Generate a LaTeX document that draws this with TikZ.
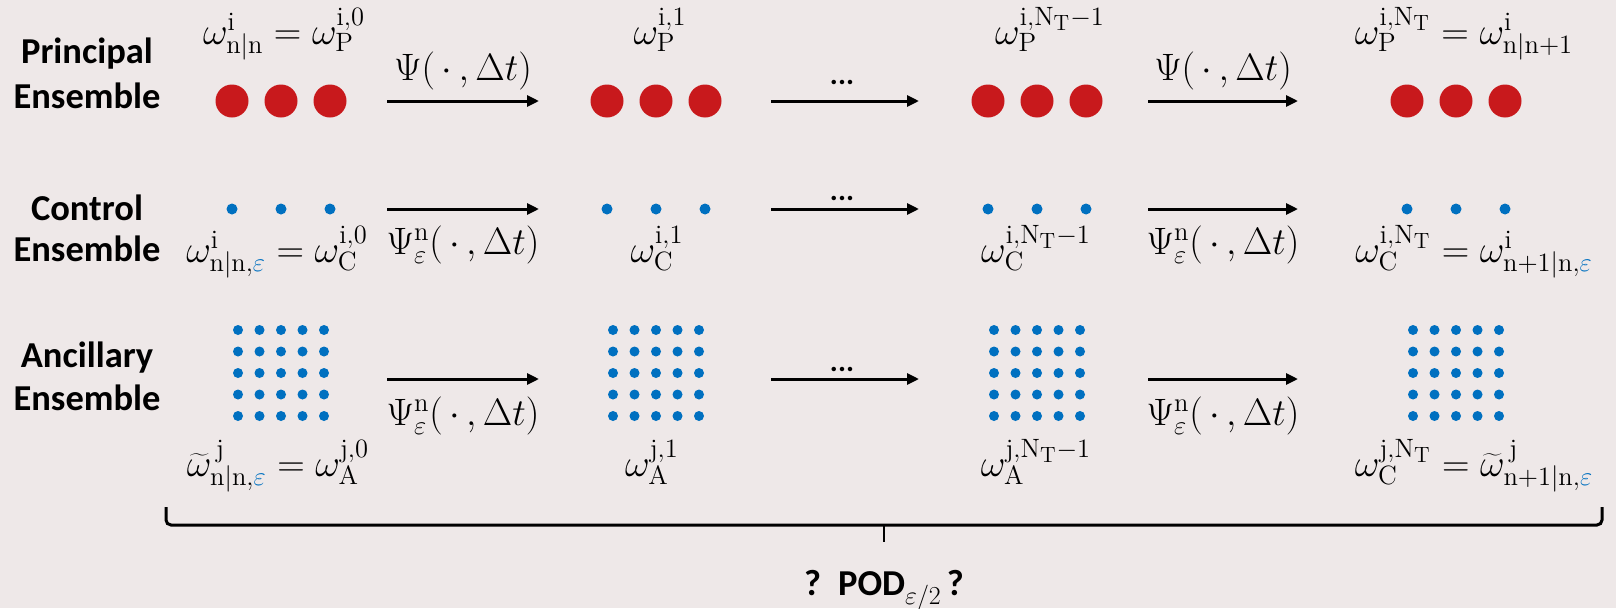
\documentclass[tikz,border=0pt]{standalone}
\usepackage{fontspec}
\setsansfont{Carlito}
\usetikzlibrary{arrows.meta}
\definecolor{bgc}{RGB}{238,232,232}
\definecolor{pred}{RGB}{200,25,28}
\definecolor{pblue}{RGB}{0,112,192}
\newcommand{\rmv}[1]{\mathrm{#1}}
\newcommand{\bep}{\textcolor{pblue}{\varepsilon}}
\newcommand{\ml}[1]{\scalebox{1.84}{\fontsize{20.74}{25}\selectfont$#1$}}
\begin{document}
\begin{tikzpicture}[x=1pt,y=-1pt,
  ens/.style={font=\sffamily\bfseries\fontsize{36.5}{43}\selectfont, anchor=base, inner sep=0pt},
  mlab/.style={anchor=base, inner sep=0pt},
  flow/.style={line width=3pt, -{Triangle[length=12pt,width=11pt]}},
  bigdot/.style={circle, fill=pred, minimum size=33pt, inner sep=0pt},
  smalldot/.style={circle, fill=pblue, minimum size=11pt, inner sep=0pt},
  griddot/.style={circle, fill=pblue, minimum size=10pt, inner sep=0pt},
  ellip/.style={font=\sffamily\bfseries\fontsize{30}{30}\selectfont, anchor=base, inner sep=0pt}
]
\fill[bgc] (0,0) rectangle (1616,608);
\useasboundingbox (0,0) rectangle (1616,608);

% row titles
\node[ens] (t1a) at (87,63) {Principal};
\node[ens] (t1b) at (87,108) {Ensemble};
\node[ens] (t2a) at (87,220) {Control};
\node[ens] (t2b) at (87,261) {Ensemble};
\node[ens] (t3a) at (87,367) {Ancillary};
\node[ens] (t3b) at (87,410) {Ensemble};

% dot groups
\foreach \g/\cx in {1/281,2/656,3/1037,4/1456}{
  \foreach \k/\dx in {1/-49,2/0,3/49}{
    \node[bigdot] (p\g-\k) at (\cx+\dx,101) {};
    \node[smalldot] (c\g-\k) at (\cx+\dx,209) {};
  }
  \foreach \i/\dx in {1/-43,2/-21.5,3/0,4/21.5,5/43}{
    \foreach \j/\dy in {1/-43,2/-21.5,3/0,4/21.5,5/43}{
      \node[griddot] (a\g-\i-\j) at (\cx+\dx,373+\dy) {};
    }
  }
}

% arrows
\foreach \r/\ry in {1/101,2/209,3/379}{
  \coordinate (s\r-1) at (387,\ry); \coordinate (e\r-1) at (539,\ry);
  \coordinate (s\r-2) at (771,\ry); \coordinate (e\r-2) at (919,\ry);
  \coordinate (s\r-3) at (1148,\ry); \coordinate (e\r-3) at (1298,\ry);
  \draw[flow] (s\r-1) -- (e\r-1);
  \draw[flow] (s\r-2) -- (e\r-2);
  \draw[flow] (s\r-3) -- (e\r-3);
}

% arrow labels
\node[mlab] (f1-1) at (463,80) {\ml{\Psi(\,\cdot\,,\Delta t)}};
\node[mlab] (f1-3) at (1223,80) {\ml{\Psi(\,\cdot\,,\Delta t)}};
\node[mlab] (f2-1) at (463,254) {\ml{\Psi^{\rmv{n}}_{\varepsilon}(\,\cdot\,,\Delta t)}};
\node[mlab] (f2-3) at (1223,254) {\ml{\Psi^{\rmv{n}}_{\varepsilon}(\,\cdot\,,\Delta t)}};
\node[mlab] (f3-1) at (463,425) {\ml{\Psi^{\rmv{n}}_{\varepsilon}(\,\cdot\,,\Delta t)}};
\node[mlab] (f3-3) at (1223,425) {\ml{\Psi^{\rmv{n}}_{\varepsilon}(\,\cdot\,,\Delta t)}};
\node[ellip] (d1) at (842,84) {...};
\node[ellip] (d2) at (842,200) {...};
\node[ellip] (d3) at (842,371) {...};

% state labels row 1
\node[mlab] (l1-1) at (284,44) {\ml{\omega^{\rmv{i}}_{\rmv{n|n}} = \omega^{\rmv{i,0}}_{\rmv{P}}}};
\node[mlab] (l1-2) at (660,44) {\ml{\omega^{\rmv{i,1}}_{\rmv{P}}}};
\node[mlab] (l1-3) at (1050,44) {\ml{\omega^{\rmv{i},\rmv{N}_{\rmv{T}}-1}_{\rmv{P}}}};
\node[mlab] (l1-4) at (1464,44) {\ml{\omega^{\rmv{i},\rmv{N}_{\rmv{T}}}_{\rmv{P}} = \omega^{\rmv{i}}_{\rmv{n|n+1}}}};
% row 2
\node[mlab] (l2-1) at (277,262) {\ml{\omega^{\rmv{i}}_{\rmv{n|n},\bep} = \omega^{\rmv{i,0}}_{\rmv{C}}}};
\node[mlab] (l2-2) at (657,262) {\ml{\omega^{\rmv{i,1}}_{\rmv{C}}}};
\node[mlab] (l2-3) at (1036,262) {\ml{\omega^{\rmv{i},\rmv{N}_{\rmv{T}}-1}_{\rmv{C}}}};
\node[mlab] (l2-4) at (1474,262) {\ml{\omega^{\rmv{i},\rmv{N}_{\rmv{T}}}_{\rmv{C}} = \omega^{\rmv{i}}_{\rmv{n+1|n},\bep}}};
% row 3
\node[mlab] (l3-1) at (278,476) {\ml{\widetilde{\omega}^{\,\rmv{j}}_{\rmv{n|n},\bep} = \omega^{\rmv{j,0}}_{\rmv{A}}}};
\node[mlab] (l3-2) at (652,476) {\ml{\omega^{\rmv{j,1}}_{\rmv{A}}}};
\node[mlab] (l3-3) at (1036,476) {\ml{\omega^{\rmv{j},\rmv{N}_{\rmv{T}}-1}_{\rmv{A}}}};
\node[mlab] (l3-4) at (1474,476) {\ml{\omega^{\rmv{j},\rmv{N}_{\rmv{T}}}_{\rmv{C}} = \widetilde{\omega}^{\,\rmv{j}}_{\rmv{n+1|n},\bep}}};

% brace
\coordinate (bl) at (166,507);
\coordinate (bm) at (884,525);
\coordinate (br) at (1602,507);
\coordinate (bt) at (884,542);
\draw[line width=3pt, rounded corners=5pt] (bl) |- (bm) -| (br);
\draw[line width=2.5pt] (bm) -- (bt);

\node[ens] (pod) at (884,595) {?\, POD\raisebox{-9pt}{\scalebox{1.25}{\fontsize{20.74}{25}\selectfont$\varepsilon/2$}}\,?};
\end{tikzpicture}
\end{document}
